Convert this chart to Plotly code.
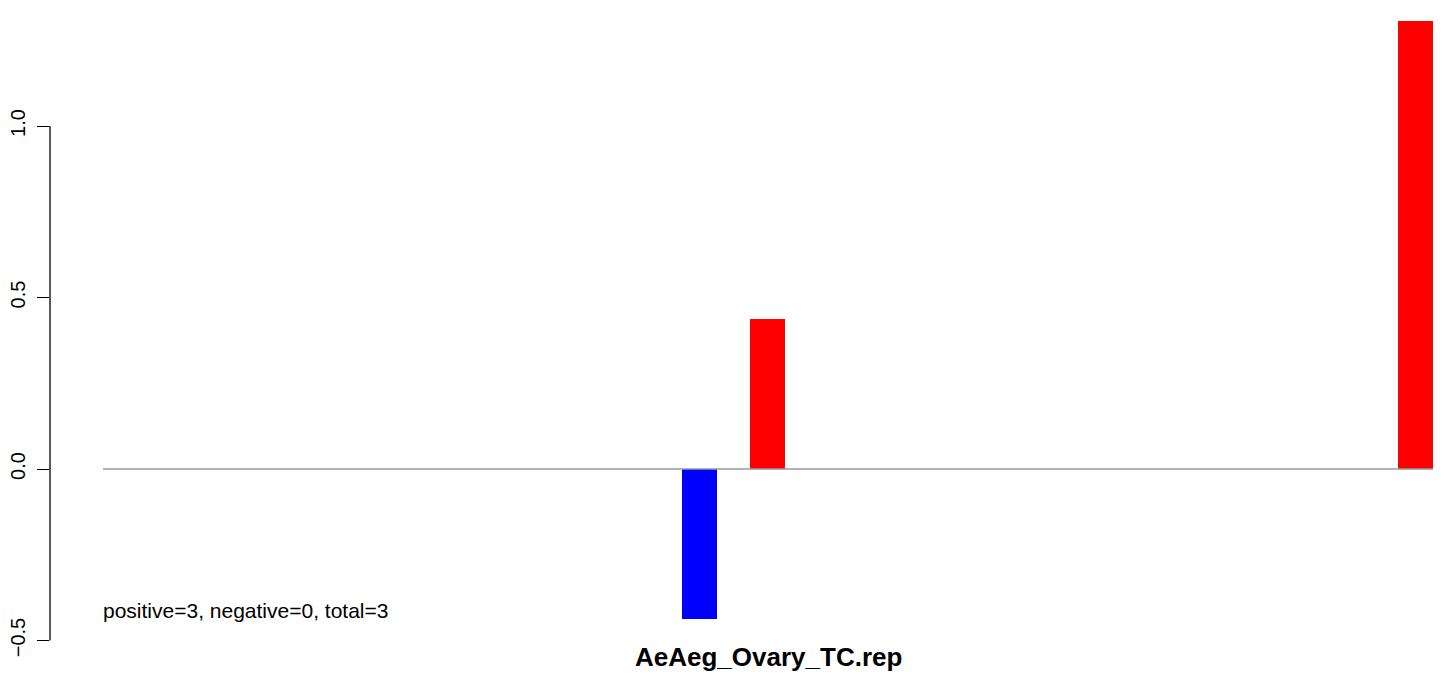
import plotly.graph_objects as go

# Data
bar_pos = [0.4485, 0.4996, 0.9868]      # bar centres (fraction of baseline span)
bar_vals = [-0.437, 0.437, 1.306]
bar_colors = ["#0000FF", "#FF0000", "#FF0000"]
bar_width = 0.0263
baseline_span = [0.0, 1.0]
y_ticks = [-0.5, 0.0, 0.5, 1.0]
y_tick_text = ["\u22120.5", "0.0", "0.5", "1.0"]
title_text = "AeAeg_Ovary_TC.rep"
note_text = "positive=3, negative=0, total=3"

W, H = 1436, 669
fig = go.Figure()

fig.add_trace(go.Bar(
    x=bar_pos, y=bar_vals, width=bar_width,
    marker=dict(color=bar_colors, line=dict(width=0)),
    showlegend=False, hoverinfo="skip",
))

# zero baseline
fig.add_trace(go.Scatter(
    x=baseline_span, y=[0, 0], mode="lines",
    line=dict(color="#999999", width=1.3),
    showlegend=False, hoverinfo="skip",
))

# y axis line from -0.5 to 1.0 (R style)
fig.add_shape(type="line", xref="paper", yref="y", x0=0, x1=0,
              y0=y_ticks[0], y1=y_ticks[-1],
              line=dict(color="black", width=1.3))

fig.add_annotation(x=0.0, y=-0.413, xref="x", yref="y", text=note_text,
                   showarrow=False, xanchor="left", yanchor="middle", xshift=-2,
                   font=dict(family="Liberation Sans, Arial", size=21, color="black"))

l, r, t, b = 42, 4, 2, 32
plot_h = H - t - b
fig.add_annotation(x=0.5, y=-12.0 / plot_h, xref="x", yref="paper",
                   text="<b>" + title_text + "</b>",
                   showarrow=False, xanchor="center", yanchor="middle",
                   font=dict(family="Liberation Sans, Arial", size=26, color="black"))

px_per_x = 1330.0
x0 = -(103 - 50) / px_per_x
x1 = (1440 - 103) / px_per_x
ppu = 343.0
y_top = (469 - 10) / ppu
y_bot = -(645 - 469) / ppu

fig.update_layout(
    width=W, height=H,
    margin=dict(l=l, r=r, t=t, b=b, autoexpand=False),
    paper_bgcolor="white", plot_bgcolor="white",
    bargap=0,
    font=dict(family="Liberation Sans, Arial", size=21, color="black"),
    xaxis=dict(range=[x0, x1], showgrid=False, zeroline=False, showline=False,
               showticklabels=False, ticks="", automargin=False),
    yaxis=dict(range=[y_bot, y_top], showgrid=False, zeroline=False, showline=False,
               tickmode="array", tickvals=y_ticks, ticktext=y_tick_text,
               ticks="outside", ticklen=12, tickwidth=1.3, tickcolor="black",
               tickangle=-90, tickfont=dict(size=20), ticklabelstandoff=4,
               automargin=False),
)

fig.write_html("out.html")
